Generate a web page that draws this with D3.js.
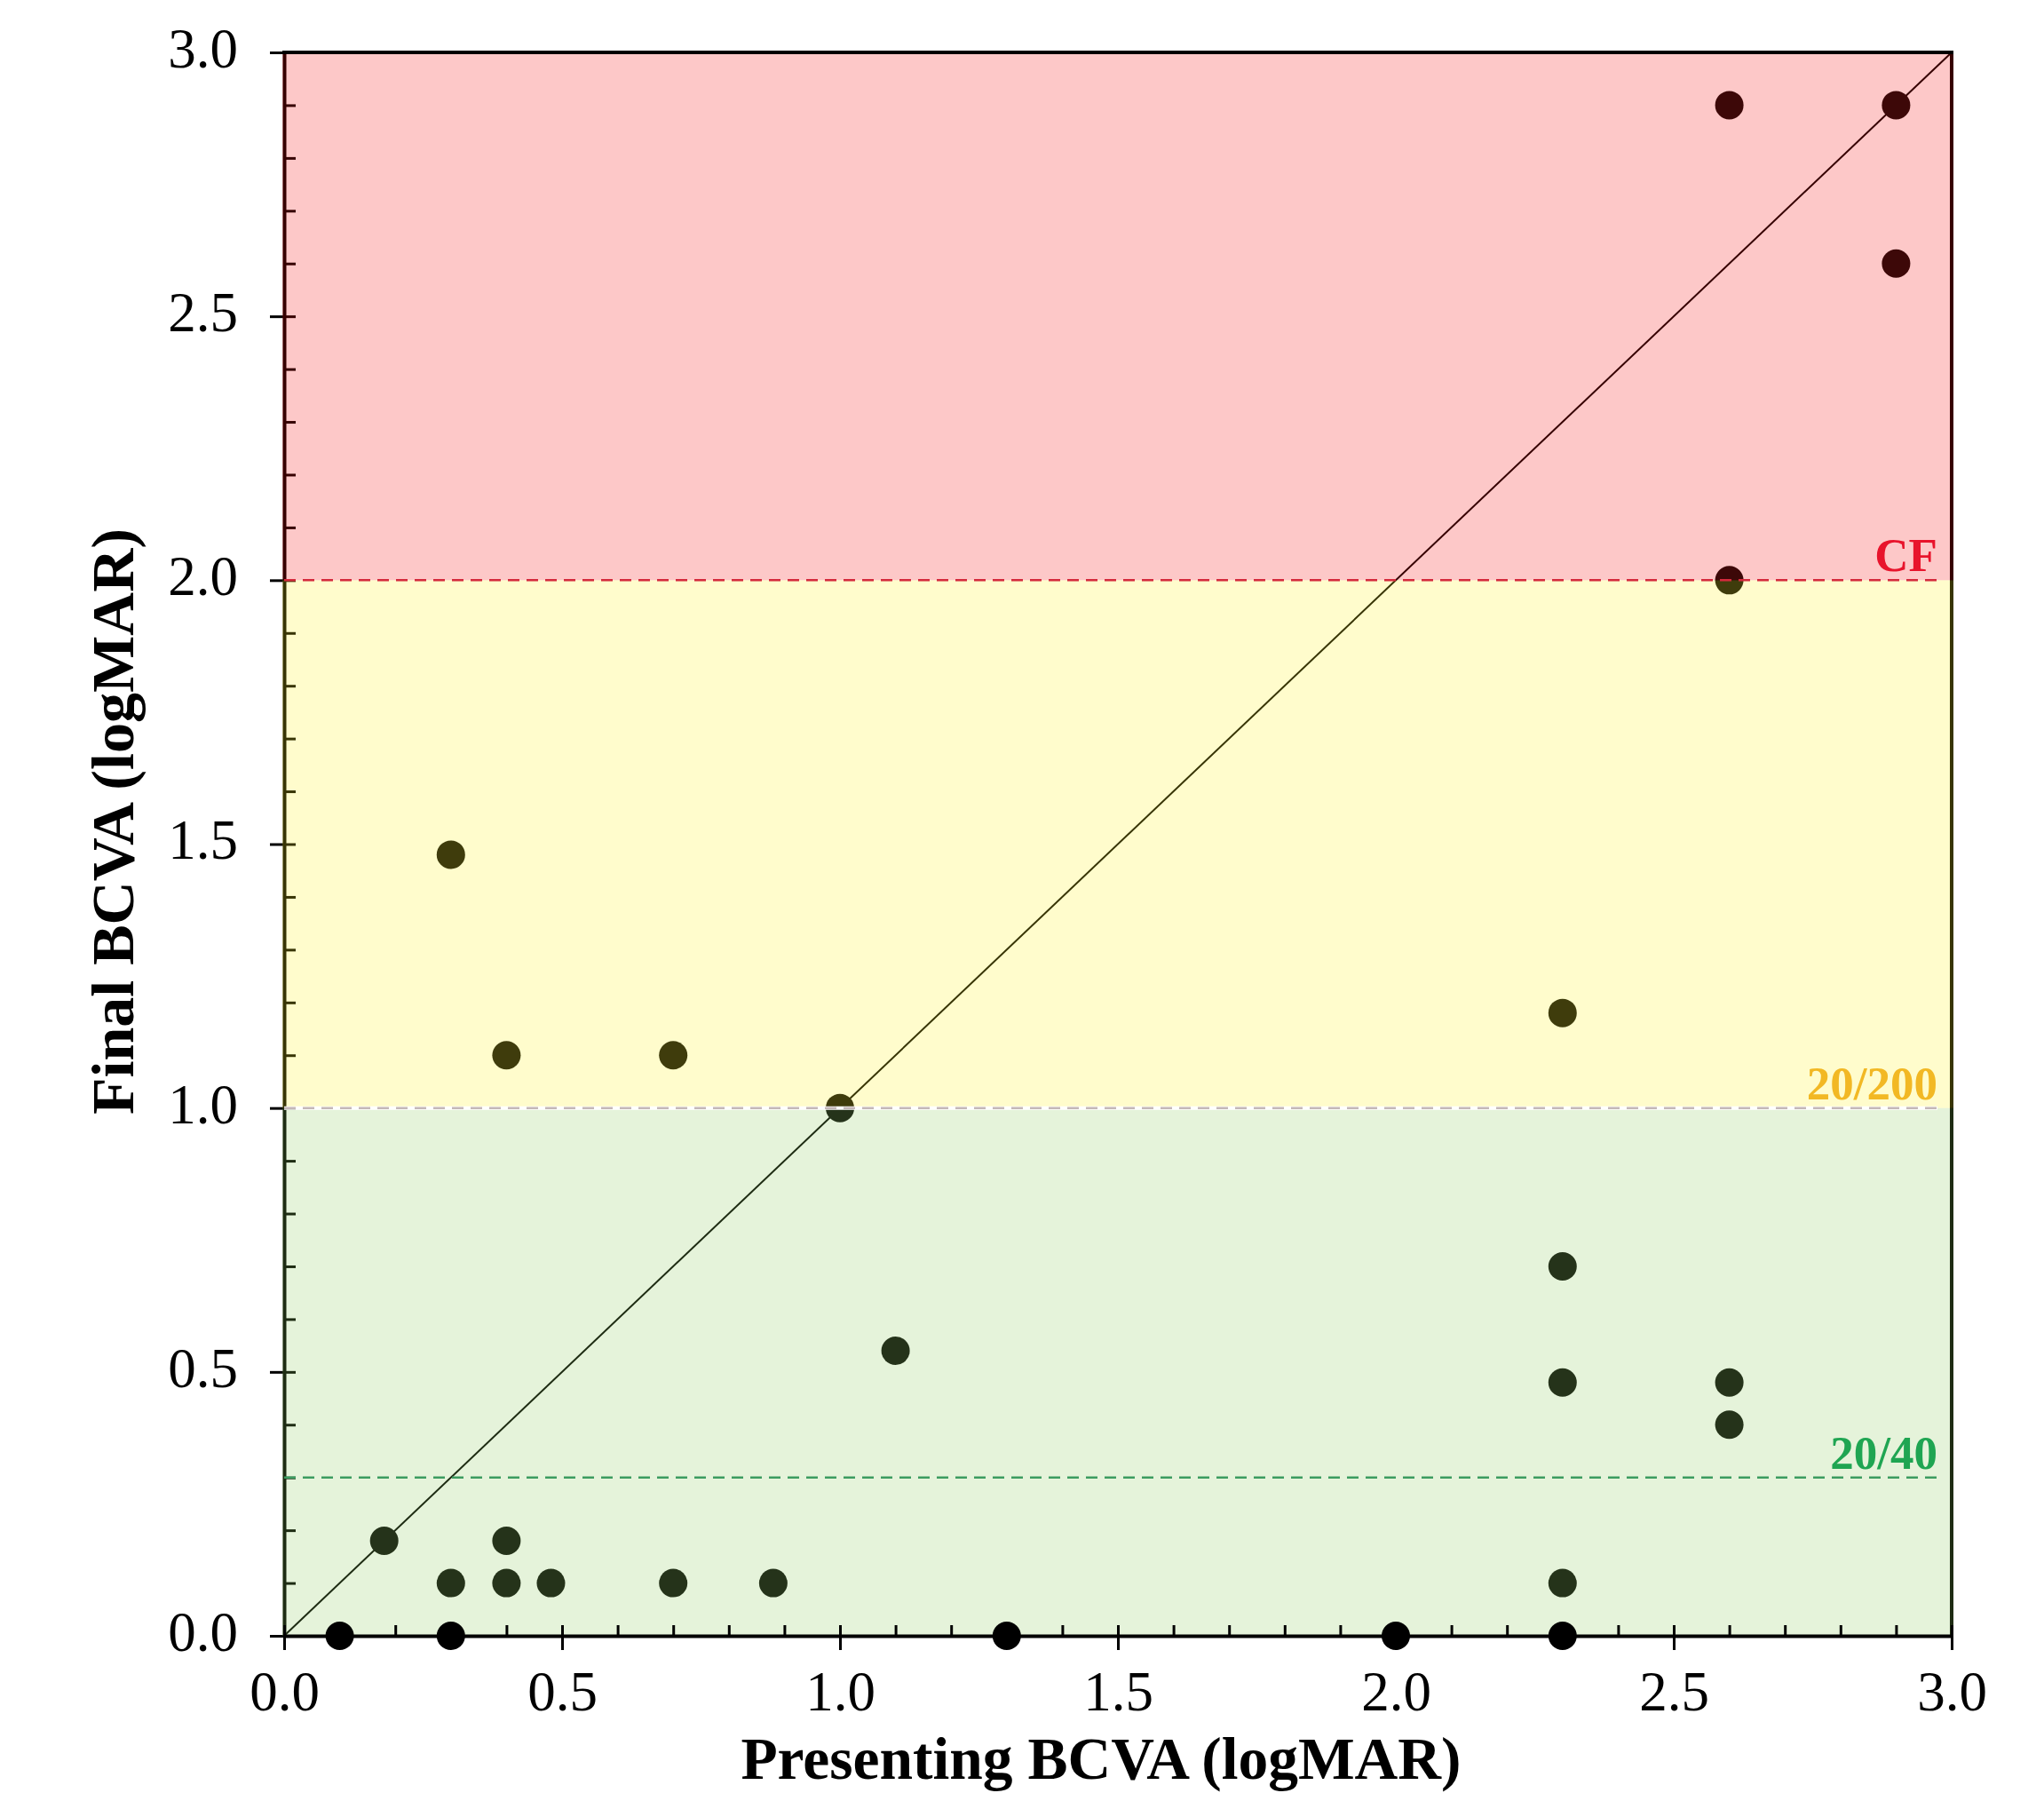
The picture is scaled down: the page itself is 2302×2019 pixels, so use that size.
<!DOCTYPE html>
<html>
<head>
<meta charset="utf-8">
<script src="https://cdn.jsdelivr.net/npm/d3@7"></script>
<style>
  body { margin: 0; background: #fff; }
  svg { display: block; }
</style>
</head>
<body>
<svg id="chart"></svg>
<script>
// Presenting vs final BCVA, one entry per eye
const presenting = [2.6, 2.9, 2.9, 2.6, 0.3, 0.4, 0.7, 1.0, 2.3, 2.3, 1.1, 2.3, 2.6, 2.6,
                    0.18, 0.3, 0.4, 0.4, 0.48, 0.7, 0.88, 2.3, 0.1, 0.3, 1.3, 2.0, 2.3];
const finalVA    = [2.9, 2.9, 2.6, 2.0, 1.48, 1.1, 1.1, 1.0, 1.18, 0.7, 0.54, 0.48, 0.48, 0.4,
                    0.18, 0.1, 0.1, 0.18, 0.1, 0.1, 0.1, 0.1, 0, 0, 0, 0, 0];

// Shaded bands (logMAR range) and their tint colours
const zoneLow    = [0, 1, 2];
const zoneHigh   = [1, 2, 3];
const zoneColors = ["#8ac857", "#fff117", "#f80606"];

// Reference thresholds
const thresholdValues = [2.0, 1.0, 0.3];
const thresholdLabels = ["CF", "20/200", "20/40"];
const thresholdLine   = ["#d42a3c", "#c4b8b8", "#3c9c60"];
const thresholdText   = ["#e8142c", "#f2b824", "#1fa552"];

const majorTicks = [0, 0.5, 1.0, 1.5, 2.0, 2.5, 3.0];
const minorTicks = d3.range(0, 31).map(i => i / 10);

const width = 2302, height = 2019;
const margin = { left: 320, right: 2198, top: 59, bottom: 1842 };
const serif = "'Liberation Serif', 'Times New Roman', Times, serif";

const points = presenting.map((p, i) => ({ x: p, y: finalVA[i] }));

const x = d3.scaleLinear().domain([0, 3]).range([margin.left, margin.right]);
const y = d3.scaleLinear().domain([0, 3]).range([margin.bottom, margin.top]);

const svg = d3.select("#chart")
    .attr("width", width)
    .attr("height", height)
    .attr("viewBox", [0, 0, width, height]);

svg.append("rect")
    .attr("width", width)
    .attr("height", height)
    .attr("fill", "#fff");

// Line of equality
svg.append("line")
    .attr("x1", x(0)).attr("y1", y(0))
    .attr("x2", x(3)).attr("y2", y(3))
    .attr("stroke", "#000")
    .attr("stroke-width", 2);

// Points (under the tint, so they pick up the band colour)
svg.append("g")
    .selectAll("circle")
    .data(points.filter(d => d.y > 0))
    .join("circle")
    .attr("cx", d => x(d.x))
    .attr("cy", d => y(d.y))
    .attr("r", 16)
    .attr("fill", "#0a0a0a");

// Y axis: major ticks cross the axis, minor ticks point inward
const yAxis = svg.append("g")
    .attr("transform", `translate(${margin.left},0)`)
    .call(d3.axisLeft(y)
        .tickValues(majorTicks)
        .tickSize(16)
        .tickSizeOuter(0)
        .tickPadding(36)
        .tickFormat(d3.format(".1f")));

svg.append("g")
    .attr("transform", `translate(${margin.left},0)`)
    .call(d3.axisRight(y)
        .tickValues(minorTicks)
        .tickSize(13)
        .tickSizeOuter(0)
        .tickFormat(""))
    .call(g => g.select(".domain").remove());

yAxis.select(".domain").attr("stroke-width", 4);
yAxis.selectAll(".tick text")
    .attr("font-family", serif)
    .attr("font-size", 63)
    .attr("fill", "#000")
    .attr("dy", "0.26em");

svg.selectAll(".tick line").attr("stroke-width", 3);

// Right border
svg.append("line")
    .attr("x1", margin.right).attr("x2", margin.right)
    .attr("y1", margin.top).attr("y2", margin.bottom)
    .attr("stroke", "#000")
    .attr("stroke-width", 4);

// Band tints
svg.append("g")
    .selectAll("rect")
    .data(zoneLow)
    .join("rect")
    .attr("x", margin.left - 2)
    .attr("width", margin.right - margin.left + 4)
    .attr("y", (d, i) => y(zoneHigh[i]))
    .attr("height", (d, i) => y(d) - y(zoneHigh[i]))
    .attr("fill", (d, i) => zoneColors[i])
    .attr("fill-opacity", 0.22);

// Threshold lines and labels
const lineEnd = margin.right - 16;
const th = svg.append("g");
thresholdValues.forEach((v, i) => {
    if (thresholdLabels[i] === "20/200") {
        th.append("line")
            .attr("x1", margin.left).attr("x2", lineEnd)
            .attr("y1", y(v)).attr("y2", y(v))
            .attr("stroke", "#fff")
            .attr("stroke-width", 4);
    }
    th.append("line")
        .attr("x1", margin.left).attr("x2", lineEnd)
        .attr("y1", y(v)).attr("y2", y(v))
        .attr("stroke", thresholdLine[i])
        .attr("stroke-width", 2.5)
        .attr("stroke-dasharray", "13 8");
    th.append("text")
        .attr("x", lineEnd)
        .attr("y", y(v) - 10)
        .attr("text-anchor", "end")
        .attr("font-family", serif)
        .attr("font-weight", "bold")
        .attr("font-size", 53)
        .attr("fill", thresholdText[i])
        .text(thresholdLabels[i]);
});

// X axis, drawn over the tint
const xAxis = svg.append("g")
    .attr("transform", `translate(0,${margin.bottom})`)
    .call(d3.axisBottom(x)
        .tickValues(majorTicks)
        .tickSize(16)
        .tickSizeOuter(0)
        .tickPadding(23)
        .tickFormat(d3.format(".1f")));

svg.append("g")
    .attr("transform", `translate(0,${margin.bottom})`)
    .call(d3.axisTop(x)
        .tickValues(minorTicks)
        .tickSize(12)
        .tickSizeOuter(0)
        .tickFormat(""))
    .call(g => g.select(".domain").remove())
    .selectAll(".tick line").attr("stroke-width", 3);

xAxis.select(".domain").attr("stroke-width", 4);
xAxis.selectAll(".tick line").attr("stroke-width", 3);
xAxis.selectAll(".tick text")
    .attr("font-family", serif)
    .attr("font-size", 63)
    .attr("fill", "#000");

// Top border
svg.append("line")
    .attr("x1", margin.left - 2).attr("x2", margin.right + 2)
    .attr("y1", margin.top).attr("y2", margin.top)
    .attr("stroke", "#000")
    .attr("stroke-width", 4);

// Points sitting on the x axis appear untinted
svg.append("g")
    .selectAll("circle")
    .data(points.filter(d => d.y === 0))
    .join("circle")
    .attr("cx", d => x(d.x))
    .attr("cy", d => y(d.y))
    .attr("r", 16)
    .attr("fill", "#000");

// Axis titles
svg.append("text")
    .attr("x", 1240)
    .attr("y", 2003)
    .attr("text-anchor", "middle")
    .attr("font-family", serif)
    .attr("font-weight", "bold")
    .attr("font-size", 67.5)
    .attr("fill", "#000")
    .text("Presenting BCVA (logMAR)");

svg.append("text")
    .attr("transform", "translate(150,925) rotate(-90)")
    .attr("text-anchor", "middle")
    .attr("font-family", serif)
    .attr("font-weight", "bold")
    .attr("font-size", 68)
    .attr("fill", "#000")
    .text("Final BCVA (logMAR)");
</script>
</body>
</html>
